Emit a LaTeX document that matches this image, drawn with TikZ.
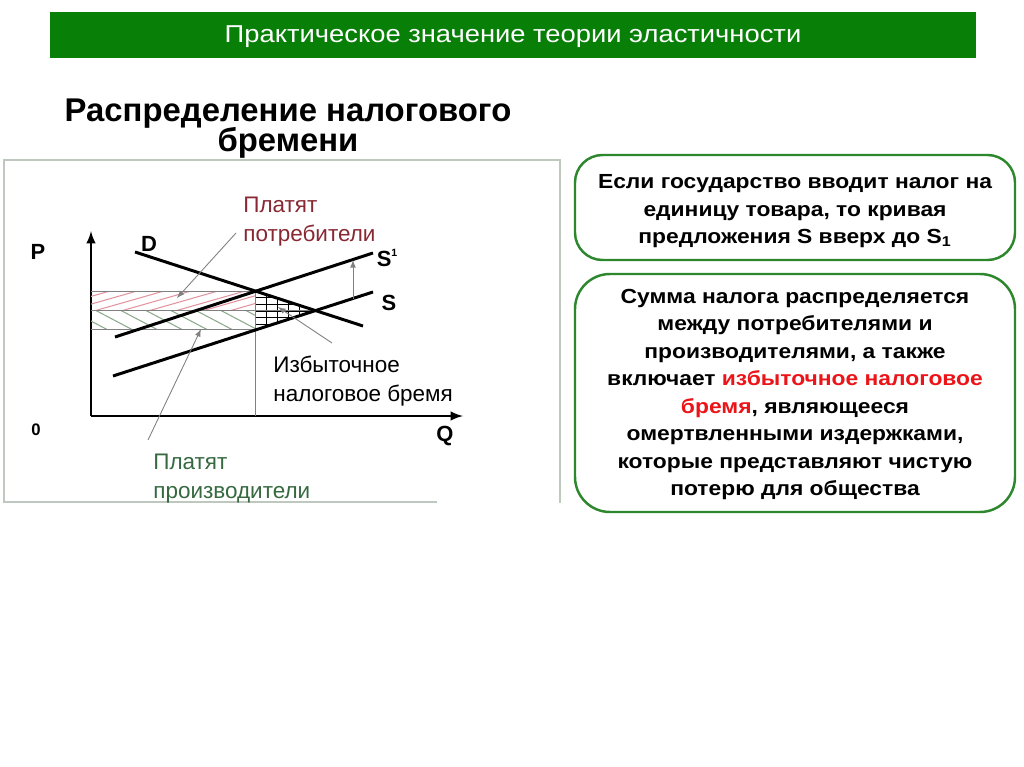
\documentclass[tikz,border=0pt]{standalone}
\usepackage{fontspec}
\setmainfont{Liberation Sans}
\newfontfamily\widefont[FakeStretch=1.12]{Liberation Sans}
\usepackage{tikz}

\definecolor{bargreen}{RGB}{8,128,8}
\definecolor{boxgreen}{RGB}{45,135,45}
\definecolor{consred}{RGB}{135,40,50}
\definecolor{prodgreen}{RGB}{55,105,65}
\definecolor{burdenred}{RGB}{235,20,25}
\definecolor{hatchred}{RGB}{225,150,160}
\definecolor{hatchgreen}{RGB}{140,170,140}
\definecolor{framegray}{RGB}{190,200,190}

\begin{document}
\begin{tikzpicture}[x=0.02cm,y=-0.02cm]
\tikzset{bar/.style={fill=bargreen,text=white,minimum width=18.52cm,minimum height=0.92cm,inner sep=0pt},
  ttl/.style={align=center,inner sep=0pt,font=\bfseries\fontsize{18.7}{20}\selectfont},
  infobox/.style={draw=boxgreen,line width=1.4pt},
  infotext/.style={align=center,inner sep=0pt,font=\widefont\bfseries\fontsize{11.6}{15.6}\selectfont},
  axlbl/.style={inner sep=0pt,font=\bfseries\fontsize{12.5}{14}\selectfont},
  lbl/.style={anchor=north west,align=left,inner sep=0pt,font=\fontsize{12.8}{16.4}\selectfont},
  ax/.style={line width=1.4pt,-latex},
  crv/.style={line width=1.7pt},
  thinl/.style={gray,line width=0.5pt},
  ptr/.style={gray,line width=0.5pt,-latex}}

\useasboundingbox (0,0) rectangle (1024,767);

% header and title
\path (513,35) node[bar] (head) {};
\path (513,37) node[text=white,font=\widefont\fontsize{13.9}{15}\selectfont] (headtext) {Практическое значение теории эластичности};
\path (288,129) node[ttl] (title) {Распределение налогового\\[-3pt]бремени};

% graph frame
\draw[framegray,line width=0.8pt] (437,502) -- (4,502) -- (4,160) -- (560,160) -- (560,503);

% axes
\path (91,416) coordinate (o);
\path (91,231) coordinate (ptop);
\path (463,416) coordinate (qend);
\draw[ax] (o) -- (ptop);
\draw[ax] (o) -- (qend);

% curves
\path (135,252) coordinate (d0);
\path (363,326) coordinate (d1);
\path (113,376) coordinate (s0);
\path (373,292) coordinate (s1);
\path (115,337) coordinate (t0);
\path (373,253) coordinate (t1);

% equilibrium points
\path (255.7,291.2) coordinate (e1);
\path (315.5,310.6) coordinate (e0);
\path (255.7,329.9) coordinate (f);
\path (91,291.2) coordinate (pc);
\path (91,310.6) coordinate (pe);
\path (91,329.9) coordinate (pp);
\path (255.7,416) coordinate (qe);

% hatching
\begin{scope}
\clip (pc) rectangle (255.7,310.6);
\foreach \x in {40,67,...,280} \draw[hatchred,line width=0.6pt] (\x,311) -- ++(70,-20);
\end{scope}
\begin{scope}
\clip (pe) rectangle (f);
\foreach \x in {45,70,...,280} \draw[hatchgreen,line width=0.6pt] (\x,310) -- ++(38,20);
\end{scope}
\begin{scope}
\clip (e1) -- (e0) -- (f) -- cycle;
\foreach \x in {255.7,266.7,...,320} \draw[line width=0.4pt] (\x,285) -- (\x,335);
\foreach \y in {291.2,297.8,...,332} \draw[line width=0.4pt] (250,\y) -- (320,\y);
\end{scope}

\draw[thinl] (pc) -- (e1);
\draw[thinl] (pe) -- (e0);
\draw[thinl] (pp) -- (f);
\draw[thinl] (e1) -- (qe);

\draw[crv] (d0) -- (d1);
\draw[crv] (s0) -- (s1);
\draw[crv] (t0) -- (t1);

% shift of supply
\path (353,298.5) coordinate (sa);
\path (353,260) coordinate (sb);
\draw[thinl,-latex] (sa) -- (sb);

% axis and curve labels
\path (38,252) node[axlbl] (plbl) {P};
\path (36,430) node[axlbl,font=\bfseries\fontsize{9.5}{11}\selectfont] (zero) {0};
\path (445,436) node[axlbl] (qlbl) {Q};
\path (149,244) node[axlbl] (dlbl) {D};
\path (387,258) node[axlbl] (s1lbl) {S\raisebox{0.9ex}{\fontsize{6}{6}\selectfont 1}};
\path (389,303) node[axlbl] (slbl) {S};

% comments on areas
\path (243,197) node[lbl,text=consred] (cons) {Платят\\потребители};
\path (153,454) node[lbl,text=prodgreen] (prod) {Платят\\производители};
\path (273,356) node[lbl] (burden) {Избыточное\\налоговое бремя};

\path (236,233) coordinate (c0);
\path (177,298) coordinate (c1);
\path (148,440) coordinate (r0);
\path (201,329) coordinate (r1);
\path (332,343) coordinate (b0);
\path (278,307) coordinate (b1);
\draw[ptr] (c0) -- (c1);
\draw[ptr] (r0) -- (r1);
\draw[ptr] (b0) -- (b1);

% text boxes
\draw[infobox,rounded corners=0.55cm] (575,155) rectangle (1015,260);
\draw[infobox,rounded corners=0.7cm] (575,274) rectangle (1015,512);
\path (795,211.5) node[infotext] (tax) {Если государство вводит налог на\\единицу товара, то кривая\\предложения S вверх до S\textsubscript{1}};
\path (795,394.5) node[infotext] (split) {Сумма налога распределяется\\между потребителями и\\производителями, а также\\включает \textcolor{burdenred}{избыточное налоговое}\\\textcolor{burdenred}{бремя}, являющееся\\омертвленными издержками,\\которые представляют чистую\\потерю для общества};
\end{tikzpicture}
\end{document}
